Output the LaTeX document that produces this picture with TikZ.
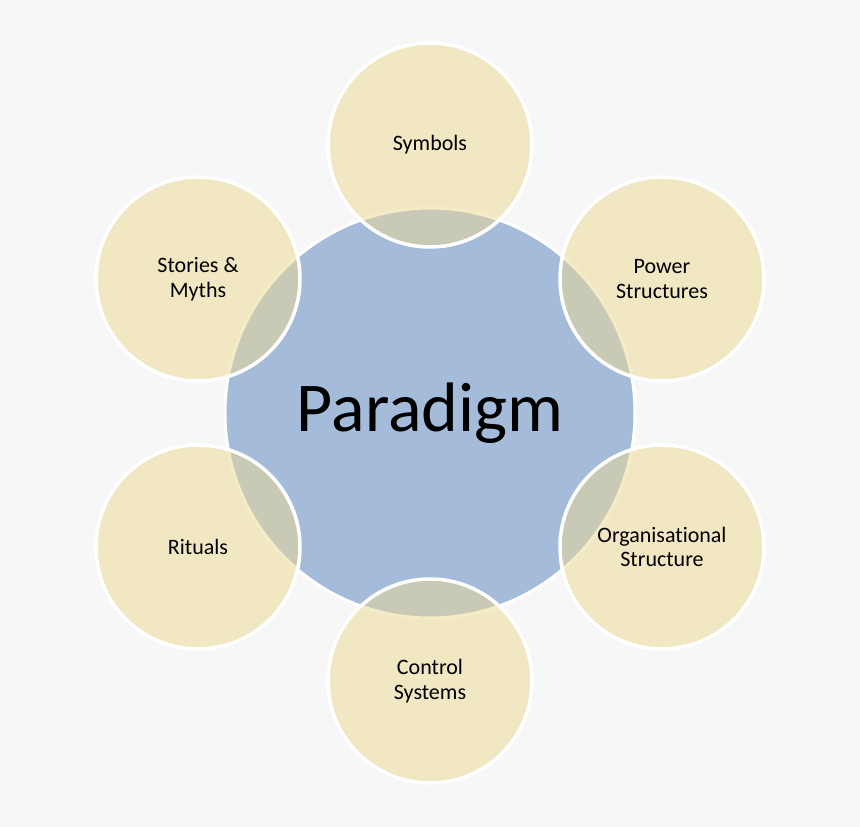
\documentclass[tikz,border=0pt]{standalone}
\usepackage{fontspec}
\setmainfont{Carlito}[Ligatures=NoCommon]
\definecolor{bgcol}{HTML}{F7F7F7}
\definecolor{paracol}{HTML}{A4BCDA}
\definecolor{satcol}{HTML}{EDD991}
\begin{document}
\begin{tikzpicture}[x=1pt,y=-1pt,
  paradigm/.style={circle,draw=white,line width=3pt,fill=paracol,minimum size=410pt,inner sep=0pt,font=\fontsize{70}{84}\selectfont},
  satellite/.style={circle,draw=white,line width=3.5pt,fill=satcol,fill opacity=0.5,text opacity=1,minimum size=204pt,inner sep=0pt,align=center,font=\fontsize{22}{24.5}\selectfont}]
\fill[bgcol] (0,0) rectangle (860,827);
\useasboundingbox (0,0) rectangle (860,827);
\node[paradigm] (para) at (430,413) {Paradigm};
\node[satellite] (sym) at (430,145) {Symbols};
\node[satellite] (pow) at (662,279) {Power\\Structures};
\node[satellite] (org) at (662,547) {Organisational\\Structure};
\node[satellite] (ctl) at (430,681) {Control\\Systems};
\node[satellite] (rit) at (198,547) {Rituals};
\node[satellite] (sto) at (198,279) {Stories \&\\Myths};
\end{tikzpicture}
\end{document}
